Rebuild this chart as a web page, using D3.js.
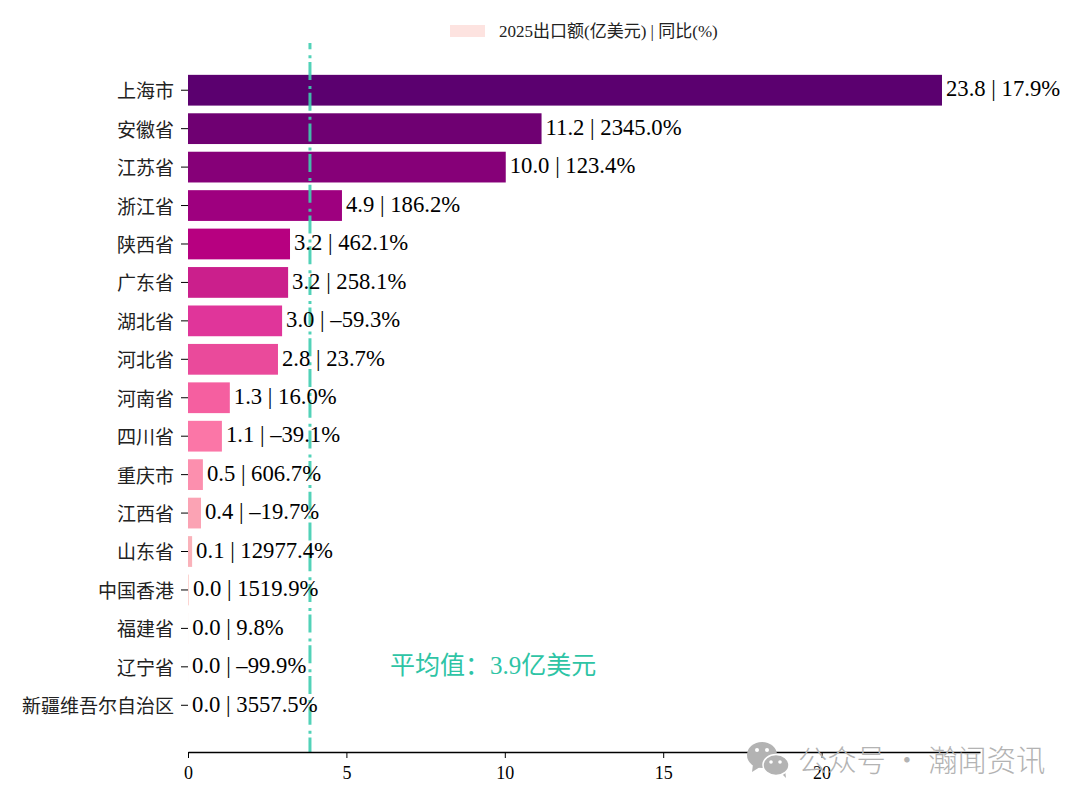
<!DOCTYPE html>
<html>
<head>
<meta charset="utf-8">
<script src="https://cdn.jsdelivr.net/npm/d3@7"></script>
<style>
  body { margin: 0; background: #fff; }
  text { font-family: "Liberation Serif", "Noto Sans CJK SC", serif; }
</style>
</head>
<body>
<div id="chart"></div>
<script>
var provinces = ["上海市", "安徽省", "江苏省", "浙江省", "陕西省", "广东省", "湖北省", "河北省", "河南省",
  "四川省", "重庆市", "江西省", "山东省", "中国香港", "福建省", "辽宁省", "新疆维吾尔自治区"];
var exportValues = [23.8, 11.16, 10.03, 4.86, 3.22, 3.16, 2.97, 2.84, 1.32, 1.07, 0.47, 0.41, 0.13, 0.03, 0.004, 0.003, 0.002];
var growthValues = ["17.9", "2345.0", "123.4", "186.2", "462.1", "258.1", "-59.3", "23.7", "16.0",
  "-39.1", "606.7", "-19.7", "12977.4", "1519.9", "9.8", "-99.9", "3557.5"];
var xTicks = [0, 5, 10, 15, 20];
var meanValue = 3.85;
var meanLabel = "平均值：3.9亿美元";
var legendLabel = "2025出口额(亿美元) | 同比(%)";
var watermarkLabel = "公众号 · 瀚闻资讯";

var barColors = ["#5b006f", "#6f0072", "#860078", "#9e007f", "#b70080", "#cb1f8c", "#e0359a", "#ea4a9b", "#f55fa0",
  "#fb76a7", "#fc8fae", "#fba3b4", "#fab2ba", "#fcd3d0", "#fde0dd", "#fdeae6", "#fff7f3"];

var svg = d3.select("#chart")
            .append("svg")
            .attr("width", 1080)
            .attr("height", 804);

var x = d3.scaleLinear().domain([0, 25]).range([188, 980]);
var y = d3.scaleBand().domain(provinces).range([71, 724.5]).paddingInner(0.2).paddingOuter(0.1);

// bars
svg.selectAll("rect.bar")
   .data(provinces)
   .enter()
   .append("rect")
   .attr("class", "bar")
   .attr("x", x(0))
   .attr("y", function(d) { return y(d); })
   .attr("width", function(d, i) { return x(exportValues[i]) - x(0); })
   .attr("height", y.bandwidth())
   .attr("fill", function(d, i) { return barColors[i]; });

// mean line
svg.append("line")
   .attr("x1", x(meanValue)).attr("x2", x(meanValue))
   .attr("y1", 43).attr("y2", 752)
   .attr("stroke", "#3fcdb0")
   .attr("stroke-opacity", 0.9)
   .attr("stroke-width", 3)
   .attr("stroke-dasharray", "18,6,3,3.7")
   .attr("stroke-dashoffset", 11.7);

// axes
var xAxis = svg.append("g")
   .attr("transform", "translate(0,752)")
   .call(d3.axisBottom(x).tickValues(xTicks).tickSize(6).tickSizeOuter(0));
xAxis.select(".domain").attr("stroke", "#000").attr("stroke-width", 1.3);
xAxis.selectAll(".tick line").attr("stroke", "#000").attr("stroke-width", 1);
xAxis.selectAll("text").attr("font-size", 18).attr("y", 14).attr("fill", "#000")
     .style("font-family", '"Liberation Serif", serif');

var yAxis = svg.append("g")
   .attr("transform", "translate(188,0)")
   .call(d3.axisLeft(y).tickSize(7));
yAxis.select(".domain").remove();
yAxis.selectAll(".tick line").attr("stroke", "#000").attr("stroke-width", 1);
yAxis.selectAll("text").attr("font-size", 19).attr("x", -14).attr("dy", "0.42em").attr("fill", "#222");

// value labels
svg.selectAll("text.value")
   .data(provinces)
   .enter()
   .append("text")
   .attr("class", "value")
   .attr("x", function(d, i) { return x(exportValues[i]) + 4; })
   .attr("y", function(d) { return y(d) + y.bandwidth() / 2 - 1; })
   .attr("dy", "0.32em")
   .attr("font-size", 22.7)
   .attr("fill", "#000")
   .text(function(d, i) {
     return exportValues[i].toFixed(1) + " | " + growthValues[i].replace("-", "–") + "%";
   });

svg.append("text")
   .attr("x", 390)
   .attr("y", 665)
   .attr("dy", "0.35em")
   .attr("font-size", 25)
   .attr("fill", "#2ec4a5")
   .text(meanLabel);

// legend
svg.append("rect")
   .attr("x", 450).attr("y", 25).attr("width", 35).attr("height", 12)
   .attr("fill", "#fde3e0");
svg.append("text")
   .attr("x", 499).attr("y", 31).attr("dy", "0.35em")
   .attr("font-size", 17).attr("fill", "#222")
   .text(legendLabel);

// watermark
var wm = svg.append("g").attr("fill", "#b3b3b3");
wm.append("path").attr("d", "M753,764 L752,772 L760,767 Z");
wm.append("ellipse").attr("cx", 762).attr("cy", 755).attr("rx", 15).attr("ry", 13);
wm.append("path").attr("d", "M781,773 L786,778 L785,770 Z");
wm.append("ellipse").attr("cx", 776).attr("cy", 765).attr("rx", 13).attr("ry", 10.5).attr("stroke", "#fff").attr("stroke-width", 1.5);
wm.append("circle").attr("cx", 757).attr("cy", 750).attr("r", 2).attr("fill", "#fff");
wm.append("circle").attr("cx", 767).attr("cy", 750).attr("r", 2).attr("fill", "#fff");
wm.append("circle").attr("cx", 771).attr("cy", 762).attr("r", 1.8).attr("fill", "#fff");
wm.append("circle").attr("cx", 780).attr("cy", 762).attr("r", 1.8).attr("fill", "#fff");
wm.append("text")
   .attr("x", 798).attr("y", 761).attr("dy", "0.35em")
   .attr("font-size", 29.3)
   .attr("font-weight", 300)
   .style("font-family", '"Noto Sans CJK SC", sans-serif')
   .text(watermarkLabel);
</script>
</body>
</html>
